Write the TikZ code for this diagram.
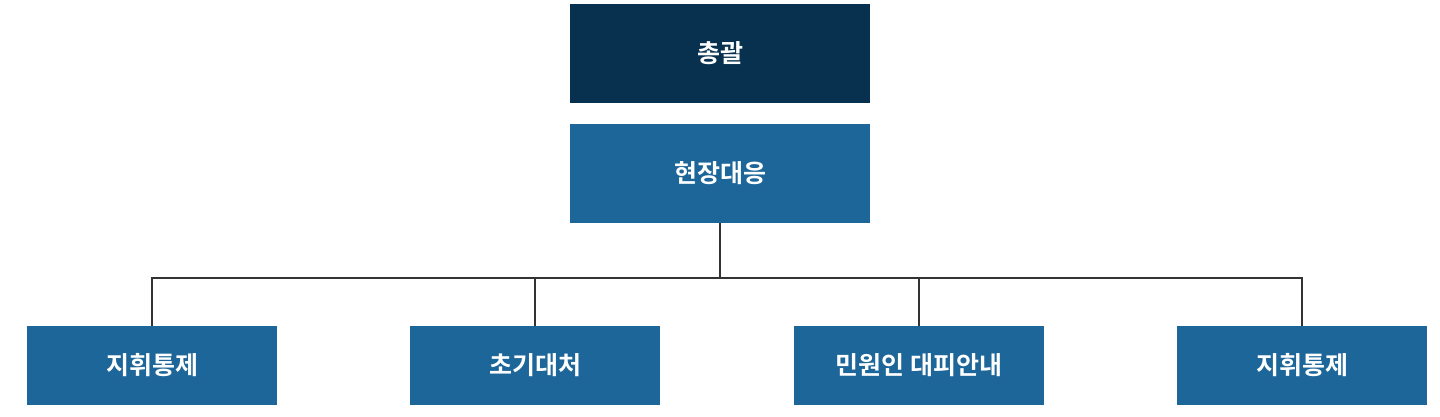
\documentclass[tikz,border=0pt]{standalone}
\usepackage{fontspec}
\newfontfamily\kr{Noto Sans CJK KR}[BoldFont={* Bold}]
\definecolor{navy}{HTML}{08314F}
\definecolor{blu}{HTML}{1D6699}
\begin{document}
\begin{tikzpicture}[x=1pt,y=-1pt,
 box/.style={fill=blu,draw=none,text=white,font=\kr\bfseries\fontsize{25}{30}\selectfont,inner sep=0pt},
 ln/.style={draw=black!80,line width=1.3pt}]
\useasboundingbox (0,0) rectangle (1440,416);
\node[box,fill=navy,minimum width=300pt,minimum height=99pt] (a) at (720,53.5) {총괄};
\node[box,minimum width=300pt,minimum height=99pt] (b) at (720,173.5) {현장대응};
\node[box,minimum width=250pt,minimum height=79pt] (c1) at (152,365.5) {지휘통제};
\node[box,minimum width=250pt,minimum height=79pt] (c2) at (535,365.5) {초기대처};
\node[box,minimum width=250pt,minimum height=79pt] (c3) at (919,365.5) {민원인 대피안내};
\node[box,minimum width=250pt,minimum height=79pt] (c4) at (1302,365.5) {지휘통제};
\coordinate (j) at (720,278);
\draw[ln] (b.south) -- (j);
\draw[ln] (c1.north) |- (j);
\draw[ln] (c4.north) |- (j);
\draw[ln] (c2.north) -- (c2.north |- j);
\draw[ln] (c3.north) -- (c3.north |- j);
\end{tikzpicture}
\end{document}
